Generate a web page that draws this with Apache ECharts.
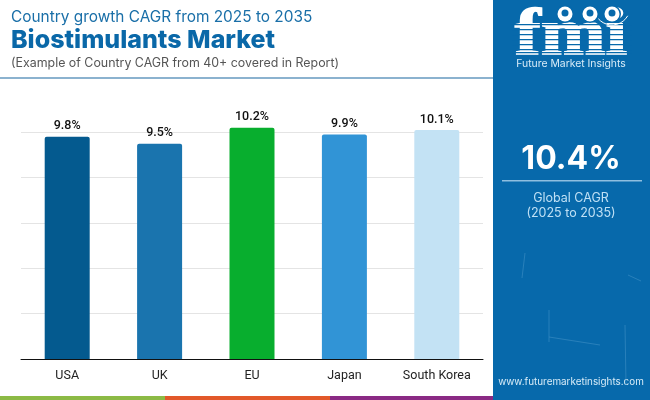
<!DOCTYPE html>
<html>
<head>
<meta charset="utf-8">
<style>html,body{margin:0;padding:0;background:#fff}#chart{width:650px;height:400px}</style>
<script src="https://cdn.jsdelivr.net/npm/echarts@6/dist/echarts.min.js"></script>
</head>
<body>
<div id="chart"></div>
<script>
var countries = ['USA', 'UK', 'EU', 'Japan', 'South Korea'];
var cagr = [9.8, 9.5, 10.2, 9.9, 10.1];
var barColors = ['#045a8f', '#1a74ae', '#08ae2e', '#3194d6', '#c3e2f4'];
var panelBlue = '#0769ab';
var logoStripes = [24, 29, 34, 39, 44, 49, 52];
var logoGlobes = [565, 590, 612];
// faint scratches on the lower part of the side panel
var scratches = [[525, 253, 522, 278], [625, 325, 626, 385], [549, 337, 600, 345], [628, 275, 641, 281], [549, 310, 549, 342]];

var myChart = echarts.init(document.getElementById('chart'));

var graphics = [
    {type: 'rect', shape: {x: 493, y: 0, width: 157, height: 400}, style: {fill: panelBlue}, z: 0},
    {type: 'rect', shape: {x: 0, y: 77, width: 493, height: 2}, style: {fill: '#8bb2cf'}},
    {type: 'rect', shape: {x: 0, y: 396, width: 165, height: 4}, style: {fill: '#8cba45'}},
    {type: 'rect', shape: {x: 165, y: 396, width: 165, height: 4}, style: {fill: '#e2582a'}},
    {type: 'rect', shape: {x: 330, y: 396, width: 163, height: 4}, style: {fill: '#8a2a84'}},
    {type: 'text', x: 11, y: 10, style: {text: 'Country growth CAGR from 2025 to 2035', fill: '#1a6fa8', font: '400 15.4px Inter, sans-serif'}},
    {type: 'text', x: 11, y: 28, style: {text: 'Biostimulants Market', fill: '#0a68a8', font: '800 25px Inter, sans-serif'}},
    {type: 'text', x: 11, y: 57, style: {text: '(Example of Country CAGR from 40+ covered in Report)', fill: '#555', font: '400 12.4px Inter, sans-serif'}},
    {type: 'text', x: 571, y: 4, scaleX: 1.18, style: {text: 'fmi', fill: '#fff', stroke: '#fff', lineWidth: 1.5, align: 'center', font: '700 66px "Liberation Serif", serif'}, z: 5},
    {type: 'text', x: 571, y: 59, style: {text: 'Future Market Insights', fill: '#d8ecf8', align: 'center', font: '400 10.4px Inter, sans-serif'}, z: 6},
    {type: 'arc', shape: {cx: 612, cy: 7, r: 18, startAngle: 0.51, endAngle: 2.43}, style: {stroke: '#fff', fill: null, lineWidth: 1}, z: 6},
    {type: 'text', x: 571, y: 143, style: {text: '10.4%', fill: '#fff', align: 'center', font: '700 32px Inter, sans-serif'}},
    {type: 'rect', shape: {x: 502, y: 180, width: 140, height: 1.5}, style: {fill: '#8fbfe0'}},
    {type: 'text', x: 571, y: 192, style: {text: 'Global CAGR', fill: '#bfe0f5', align: 'center', font: '400 12.5px Inter, sans-serif'}},
    {type: 'text', x: 571, y: 207, style: {text: '(2025 to 2035)', fill: '#bfe0f5', align: 'center', font: '400 12.5px Inter, sans-serif'}},
    {type: 'text', x: 571, y: 377, style: {text: 'www.futuremarketinsights.com', fill: '#d8ecf8', align: 'center', font: '400 9.9px Inter, sans-serif'}}
];
logoStripes.forEach(function (y) {
    graphics.push({type: 'rect', shape: {x: 512, y: y, width: 120, height: 1.2}, style: {fill: panelBlue}, z: 5});
});
logoGlobes.forEach(function (x) {
    graphics.push({type: 'circle', shape: {cx: x, cy: 14, r: 9}, style: {fill: panelBlue}, z: 6});
    graphics.push({type: 'circle', shape: {cx: x, cy: 14, r: 7.5}, style: {fill: '#fff'}, z: 7});
    graphics.push({type: 'circle', shape: {cx: x, cy: 13, r: 3.5}, style: {fill: panelBlue}, z: 8});
});
scratches.forEach(function (s) {
    graphics.push({type: 'line', shape: {x1: s[0], y1: s[1], x2: s[2], y2: s[3]}, style: {stroke: '#3f8fc4', lineWidth: 1, opacity: 0.6}, z: 1});
});

var option = {
    animation: false,
    backgroundColor: '#fff',
    graphic: graphics,
    grid: {left: 21, right: 167, top: 87, bottom: 41},
    xAxis: {
        type: 'category',
        data: countries,
        axisLine: {lineStyle: {color: '#111', width: 1}},
        axisTick: {show: false},
        axisLabel: {color: '#222', fontFamily: 'Roboto', fontSize: 12.5, margin: 10}
    },
    yAxis: {
        type: 'value',
        min: 0,
        max: 12,
        interval: 2,
        axisLine: {show: false},
        axisTick: {show: false},
        axisLabel: {show: false},
        splitLine: {showMaxLine: false, lineStyle: {color: '#e4e4e4', width: 1}}
    },
    series: [{
        type: 'bar',
        barWidth: 45,
        data: cagr.map(function (v, i) {
            return {value: v, itemStyle: {color: barColors[i], borderRadius: [2, 2, 0, 0]}};
        }),
        label: {
            show: true,
            position: 'top',
            distance: 4,
            color: '#111',
            fontFamily: 'Roboto',
            fontWeight: 500,
            fontSize: 12.5,
            formatter: function (p) { return p.value.toFixed(1) + '%'; }
        }
    }]
};
myChart.setOption(option);
</script>
</body>
</html>
